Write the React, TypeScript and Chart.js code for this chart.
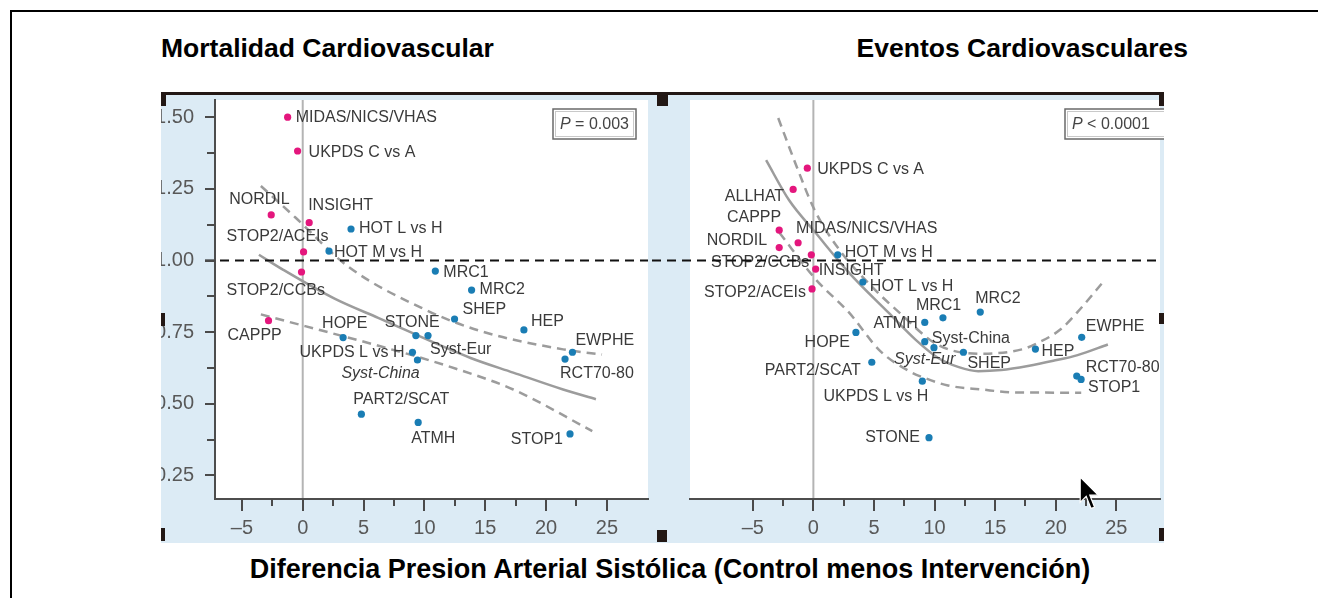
import React, { useEffect, useRef } from 'react';
import { Chart, registerables } from 'chart.js';

Chart.register(...registerables);

const FONT = '"Liberation Sans", Arial, Helvetica, sans-serif';

// ---------------- Mortalidad Cardiovascular (left panel) ----------------
const mortTrials = [
  'MIDAS/NICS/VHAS', 'UKPDS C vs A', 'NORDIL', 'INSIGHT', 'HOT L vs H', 'STOP2/ACEIs',
  'HOT M vs H', 'STOP2/CCBs', 'MRC1', 'MRC2', 'SHEP', 'HEP', 'EWPHE', 'RCT70-80',
  'CAPPP', 'HOPE', 'STONE', 'Syst-Eur', 'UKPDS L vs H', 'Syst-China', 'PART2/SCAT',
  'ATMH', 'STOP1',
];
const mortSbpDiff = [
  -1.24, -0.42, -2.59, 0.53, 3.97, 0.07, 2.16, -0.10, 10.9, 13.88, 12.48, 18.18, 22.17, 21.56,
  -2.81, 3.32, 9.30, 10.30, 9.02, 9.43, 4.82, 9.49, 21.97,
];
const mortOddsRatio = [
  1.50, 1.382, 1.159, 1.132, 1.110, 1.030, 1.033, 0.960, 0.963, 0.897, 0.796, 0.758, 0.680, 0.656,
  0.790, 0.731, 0.738, 0.738, 0.680, 0.653, 0.464, 0.435, 0.395,
];
const mortComparison = [
  'new', 'new', 'new', 'new', 'old', 'new', 'old', 'new', 'old', 'old', 'old', 'old', 'old', 'old',
  'new', 'old', 'old', 'old', 'old', 'old', 'old', 'old', 'old',
];
const mortUpperX = [-3.44, -0.6, 3.7, 10.0, 14.6, 21.4, 24.6];
const mortUpperY = [1.26, 1.15, 0.98, 0.83, 0.754, 0.69, 0.672];
const mortFitX = [-3.6, -1.7, 2.66, 6.2, 13.8, 17.3, 21.4, 24.1];
const mortFitY = [1.02, 0.97, 0.866, 0.80, 0.66, 0.609, 0.55, 0.516];
const mortLowerX = [-3.44, 0.2, 6.45, 11.9, 17.3, 23.8];
const mortLowerY = [0.812, 0.771, 0.70, 0.632, 0.55, 0.405];

// ---------------- Eventos Cardiovasculares (right panel) ----------------
const evTrials = [
  'UKPDS C vs A', 'ALLHAT', 'CAPPP', 'MIDAS/NICS/VHAS', 'NORDIL', 'STOP2/CCBs', 'HOT M vs H',
  'INSIGHT', 'HOT L vs H', 'STOP2/ACEIs', 'MRC1', 'MRC2', 'ATMH', 'HOPE', 'Syst-China',
  'Syst-Eur', 'SHEP', 'HEP', 'EWPHE', 'PART2/SCAT', 'RCT70-80', 'STOP1', 'UKPDS L vs H', 'STONE',
];
const evSbpDiff = [
  -0.50, -1.67, -2.82, -1.26, -2.82, -0.17, 2.01, 0.19, 4.08, -0.11, 10.69, 13.77, 9.19, 3.51,
  9.19, 9.95, 12.38, 18.32, 22.14, 4.82, 21.73, 22.09, 8.99, 9.54,
];
const evOddsRatio = [
  1.322, 1.248, 1.106, 1.062, 1.045, 1.020, 1.020, 0.970, 0.925, 0.901, 0.800, 0.820, 0.784, 0.749,
  0.717, 0.696, 0.680, 0.691, 0.732, 0.645, 0.597, 0.585, 0.579, 0.382,
];
const evComparison = [
  'new', 'new', 'new', 'new', 'new', 'new', 'old', 'new', 'old', 'new', 'old', 'old', 'old', 'old',
  'old', 'old', 'old', 'old', 'old', 'old', 'old', 'old', 'old', 'old',
];
const evUpperX = [-2.9, -1.4, 0.08, 2.1, 4.8, 7.05, 10.3, 13.9, 17.2, 18.4, 20.4, 22.0, 24.0];
const evUpperY = [1.497, 1.33, 1.178, 1.04, 0.91, 0.82, 0.705, 0.675, 0.69, 0.71, 0.76, 0.83, 0.93];
const evFitX = [-3.9, -2.0, 0.2, 2.95, 6.2, 8.4, 10.3, 12.0, 13.6, 15.5, 17.7, 19.8, 21.8, 24.3];
const evFitY = [1.35, 1.21, 1.096, 0.957, 0.818, 0.725, 0.66, 0.628, 0.614, 0.618, 0.632, 0.65, 0.67, 0.707];
const evLowerX = [-2.8, 0.2, 2.95, 5.5, 7.9, 9.2, 11.1, 13.9, 16.6, 22.1];
const evLowerY = [1.097, 0.934, 0.818, 0.685, 0.614, 0.59, 0.564, 0.55, 0.54, 0.539];

// ---------------- Axes ----------------
const xTickValues = [-5, 0, 5, 10, 15, 20, 25];
const xMinorTickValues = [-2.5, 2.5, 7.5, 12.5, 17.5, 22.5];
const yTickValues = [0.25, 0.5, 0.75, 1.0, 1.25, 1.5];
const yMinorTickValues = [0.375, 0.625, 0.875, 1.125, 1.375];
const referenceRatio = 1.0;

// ---------------- Styling (label placement: dx, dy, align, italic) ----------------
type LabelPos = [number, number, CanvasTextAlign, boolean?];
const mortLabelPos: LabelPos[] = [
  [8, 0, 'left'], [11, 2, 'left'], [-42, -15, 'left'], [-1, -17, 'left'], [8, 0, 'left'],
  [-77, -15, 'left'], [5, 2, 'left'], [-75, 19, 'left'], [8, 1, 'left'], [8, 0, 'left'],
  [8, -9, 'left'], [7, -8, 'left'], [3, -12, 'left'], [-5, 14, 'left'], [-41, 15, 'left'],
  [-21, -14, 'left'], [-31, -13, 'left'], [2, 14, 'left'], [-8, 0, 'right'], [-76, 14, 'left', true],
  [-8, -15, 'left'], [-7, 16, 'left'], [-7, 6, 'right'],
];
const evLabelPos: LabelPos[] = [
  [10, 1, 'left'], [-9, 7, 'right'], [2, -13, 'right'], [-2, -14, 'left'], [-12, -7, 'right'],
  [-2, 8, 'right'], [7, -2, 'left'], [3, 1, 'left'], [7, 5, 'left'], [-6, 4, 'right'],
  [-27, -12, 'left'], [-5, -14, 'left'], [-7, 1, 'right'], [-6, 10, 'right'], [7, -3, 'left'],
  [-40, 12, 'left', true], [4, 11, 'left'], [6, 3, 'left'], [4, -11, 'left'], [-11, 8, 'right'],
  [9, -8, 'left'], [7, 8, 'left'], [6, 15, 'right'], [-9, 0, 'right'],
];

const PINK = '#e4167d';
const BLUE = '#1a7db4';
const CURVE = '#9c9c9c';
const PANEL_BG = '#dcebf5';
const DARK = '#231815';

interface PanelSpec {
  trials: string[];
  xs: number[];
  ys: number[];
  groups: string[];
  labelPos: LabelPos[];
  curves: { xs: number[]; ys: number[]; dashed: boolean }[];
  xMin: number;
  xMax: number;
  yMin: number;
  yMax: number;
  showY: boolean;
  padLeft: number;
  padTop: number;
  pValue: string;
  pBoxFromRight: number;
  pBoxWidth: number;
  refStartFromLeft: number;
}

const fmtX = (v: number) => (v < 0 ? '\u2013' + Math.abs(v) : String(v));

function buildConfig(spec: PanelSpec): any {
  const pts = (g: string) =>
    spec.xs.map((x, i) => ({ x, y: spec.ys[i], g: spec.groups[i] })).filter((p) => p.g === g);
  const datasets: any[] = [
    { data: pts('new'), backgroundColor: PINK, pointRadius: 3.6, borderWidth: 0 },
    { data: pts('old'), backgroundColor: BLUE, pointRadius: 3.6, borderWidth: 0 },
    ...spec.curves.map((c) => ({
      data: c.xs.map((x, i) => ({ x, y: c.ys[i] })),
      showLine: true,
      borderColor: CURVE,
      borderWidth: 2.5,
      borderDash: c.dashed ? [9, 6] : [],
      pointRadius: 0,
      tension: 0.4,
      cubicInterpolationMode: 'monotone',
      fill: false,
    })),
  ];

  const decor = {
    id: 'panelDecor',
    beforeDraw(chart: any) {
      const { ctx, chartArea: a } = chart;
      ctx.save();
      ctx.fillStyle = '#ffffff';
      ctx.fillRect(a.left, a.top, a.right - a.left, a.bottom - a.top);
      const x0 = chart.scales.x.getPixelForValue(0);
      ctx.strokeStyle = '#b4b4b4';
      ctx.lineWidth = 2;
      ctx.beginPath();
      ctx.moveTo(x0, a.top);
      ctx.lineTo(x0, a.bottom);
      ctx.stroke();
      ctx.restore();
    },
    afterDatasetsDraw(chart: any) {
      const { ctx, chartArea: a } = chart;
      const xs = chart.scales.x;
      const ys = chart.scales.y;
      ctx.save();
      ctx.fillStyle = '#3a3a3a';
      ctx.textBaseline = 'middle';
      spec.trials.forEach((name, i) => {
        const [dx, dy, align, italic] = spec.labelPos[i];
        const px = xs.getPixelForValue(spec.xs[i]);
        const py = ys.getPixelForValue(spec.ys[i]);
        ctx.font = `${italic ? 'italic ' : ''}16px ${FONT}`;
        ctx.textAlign = align;
        ctx.fillText(name, px + dx, py + dy);
      });
      // reference line OR = 1
      const yr = ys.getPixelForValue(referenceRatio);
      ctx.strokeStyle = '#111';
      ctx.lineWidth = 2;
      ctx.setLineDash([9, 6]);
      ctx.beginPath();
      ctx.moveTo(spec.refStartFromLeft, yr);
      ctx.lineTo(a.right, yr);
      ctx.stroke();
      ctx.setLineDash([]);
      // P value box
      const bx = a.right - spec.pBoxFromRight;
      const by = a.top + 9;
      const bw = spec.pBoxWidth;
      const bh = 30;
      ctx.fillStyle = '#fff';
      ctx.fillRect(bx, by, bw, bh);
      ctx.strokeStyle = '#c9c9c9';
      ctx.lineWidth = 1;
      ctx.strokeRect(bx + 2.5, by + 2.5, bw - 5, bh - 5);
      ctx.strokeStyle = '#6a6a6a';
      ctx.lineWidth = 1.5;
      ctx.strokeRect(bx, by, bw, bh);
      ctx.fillStyle = '#444';
      ctx.textAlign = 'left';
      ctx.font = `italic 16px ${FONT}`;
      ctx.fillText('P', bx + 7, by + bh / 2 + 1);
      const pw = ctx.measureText('P').width;
      ctx.font = `16px ${FONT}`;
      ctx.fillText(' ' + spec.pValue, bx + 7 + pw, by + bh / 2 + 1);
      ctx.restore();
    },
    afterDraw(chart: any) {
      const { ctx, chartArea: a } = chart;
      const xs = chart.scales.x;
      const ys = chart.scales.y;
      ctx.save();
      ctx.strokeStyle = '#4a4a4a';
      ctx.lineWidth = 2;
      ctx.beginPath();
      xTickValues.forEach((v) => {
        const p = Math.round(xs.getPixelForValue(v));
        ctx.moveTo(p, a.bottom);
        ctx.lineTo(p, a.bottom + 12);
      });
      xMinorTickValues.forEach((v) => {
        const p = Math.round(xs.getPixelForValue(v));
        ctx.moveTo(p, a.bottom);
        ctx.lineTo(p, a.bottom + 7);
      });
      if (spec.showY) {
        yTickValues.forEach((v) => {
          const p = Math.round(ys.getPixelForValue(v));
          ctx.moveTo(a.left, p);
          ctx.lineTo(a.left - 10, p);
        });
        yMinorTickValues.forEach((v) => {
          const p = Math.round(ys.getPixelForValue(v));
          ctx.moveTo(a.left, p);
          ctx.lineTo(a.left - 8, p);
        });
      }
      ctx.stroke();
      ctx.restore();
    },
  };

  return {
    type: 'scatter',
    data: { datasets },
    options: {
      animation: false,
      responsive: false,
      devicePixelRatio: 1,
      events: [],
      layout: { padding: { top: spec.padTop, left: spec.padLeft, right: 0, bottom: 0 } },
      plugins: { legend: { display: false }, tooltip: { enabled: false }, title: { display: false } },
      scales: {
        x: {
          type: 'linear',
          min: spec.xMin,
          max: spec.xMax,
          grid: { display: false, drawTicks: false },
          border: { display: true, color: '#4d4d4d', width: 2 },
          ticks: {
            font: { size: 20, family: FONT },
            color: '#585858',
            padding: 17,
            autoSkip: false,
            maxRotation: 0,
            callback: (v: number) => fmtX(v),
          },
          afterBuildTicks: (s: any) => {
            s.ticks = xTickValues.map((v) => ({ value: v }));
          },
          afterFit: (s: any) => {
            s.height = 44;
            s.paddingLeft = 0;
            s.paddingRight = 0;
            s.paddingTop = 0;
            s.paddingBottom = 0;
          },
        },
        y: {
          type: 'linear',
          display: spec.showY,
          min: spec.yMin,
          max: spec.yMax,
          grid: { display: false, drawTicks: false },
          border: { display: true, color: '#4d4d4d', width: 2 },
          ticks: {
            font: { size: 20, family: FONT },
            color: '#585858',
            padding: 21,
            autoSkip: false,
            callback: (v: number) => v.toFixed(2),
          },
          afterBuildTicks: (s: any) => {
            s.ticks = yTickValues.map((v) => ({ value: v }));
          },
          afterFit: (s: any) => {
            s.width = spec.showY ? 54 : 0;
            s.paddingLeft = 0;
            s.paddingRight = 0;
            s.paddingTop = 0;
            s.paddingBottom = 0;
          },
        },
      },
    },
    plugins: [decor],
  };
}

const leftSpec: PanelSpec = {
  trials: mortTrials,
  xs: mortSbpDiff,
  ys: mortOddsRatio,
  groups: mortComparison,
  labelPos: mortLabelPos,
  curves: [
    { xs: mortUpperX, ys: mortUpperY, dashed: true },
    { xs: mortFitX, ys: mortFitY, dashed: false },
    { xs: mortLowerX, ys: mortLowerY, dashed: true },
  ],
  xMin: -7.21,
  xMax: 28.38,
  yMin: 0.168,
  yMax: 1.56,
  showY: true,
  padLeft: 0,
  padTop: 5,
  pValue: '= 0.003',
  pBoxFromRight: 95,
  pBoxWidth: 83,
  refStartFromLeft: 44,
};

const rightSpec: PanelSpec = {
  trials: evTrials,
  xs: evSbpDiff,
  ys: evOddsRatio,
  groups: evComparison,
  labelPos: evLabelPos,
  curves: [
    { xs: evUpperX, ys: evUpperY, dashed: true },
    { xs: evFitX, ys: evFitY, dashed: false },
    { xs: evLowerX, ys: evLowerY, dashed: true },
  ],
  xMin: -10.18,
  xMax: 28.6,
  yMin: 0.168,
  yMax: 1.56,
  showY: false,
  padLeft: 38,
  padTop: 5,
  pValue: '< 0.0001',
  pBoxFromRight: 95,
  pBoxWidth: 110,
  refStartFromLeft: 0,
};

function Panel({ spec, left, width }: { spec: PanelSpec; left: number; width: number }) {
  const ref = useRef<HTMLCanvasElement>(null);
  useEffect(() => {
    const chart = new Chart(ref.current as HTMLCanvasElement, buildConfig(spec));
    return () => chart.destroy();
  }, [spec]);
  return (
    <canvas
      ref={ref}
      width={width}
      height={448}
      style={{ position: 'absolute', left, top: 95, width, height: 448, display: 'block' }}
    />
  );
}

const titleStyle: React.CSSProperties = {
  position: 'absolute',
  fontFamily: FONT,
  fontWeight: 'bold',
  fontSize: 26.5,
  lineHeight: '26px',
  color: '#000',
  whiteSpace: 'nowrap',
};

const cropMarks = [
  [161, 92, 5, 14], [657, 92, 11, 14], [1159, 92, 5, 14],
  [161, 313, 4, 13], [161, 528, 4, 13], [657, 530, 10, 12],
  [1159, 313, 5, 11], [1159, 528, 5, 13],
];

export default function App() {
  return (
    <div
      style={{
        position: 'absolute',
        left: 0,
        top: 0,
        width: 1318,
        height: 598,
        background: '#fff',
        overflow: 'hidden',
      }}
    >
      <div style={{ position: 'absolute', left: 10, top: 10, width: 1308, height: 2, background: '#000' }} />
      <div style={{ position: 'absolute', left: 10, top: 10, width: 2, height: 588, background: '#000' }} />
      <div style={{ ...titleStyle, left: 161, top: 35 }}>Mortalidad Cardiovascular</div>
      <div style={{ ...titleStyle, right: 130, top: 35 }}>Eventos Cardiovasculares</div>
      <div style={{ position: 'absolute', left: 161, top: 95, width: 1003, height: 448, background: PANEL_BG }} />
      <div style={{ position: 'absolute', left: 161, top: 92, width: 1003, height: 3, background: DARK }} />
      <Panel spec={leftSpec} left={161} width={491} />
      <Panel spec={rightSpec} left={652} width={512} />
      {cropMarks.map(([x, y, w, h], i) => (
        <div key={i} style={{ position: 'absolute', left: x, top: y, width: w, height: h, background: DARK }} />
      ))}
      <svg
        width={24}
        height={36}
        viewBox="0 0 20 30"
        style={{ position: 'absolute', left: 1079, top: 476 }}
      >
        <polygon points="1,1 1,22 6,17 10,27 13,26 9,16 16,16" fill="#000" stroke="#fff" strokeWidth={1} />
      </svg>
      <div style={{ ...titleStyle, fontSize: 27, left: 670, top: 556, transform: 'translateX(-50%)' }}>
        Diferencia Presion Arterial Sistólica (Control menos Intervención)
      </div>
    </div>
  );
}
